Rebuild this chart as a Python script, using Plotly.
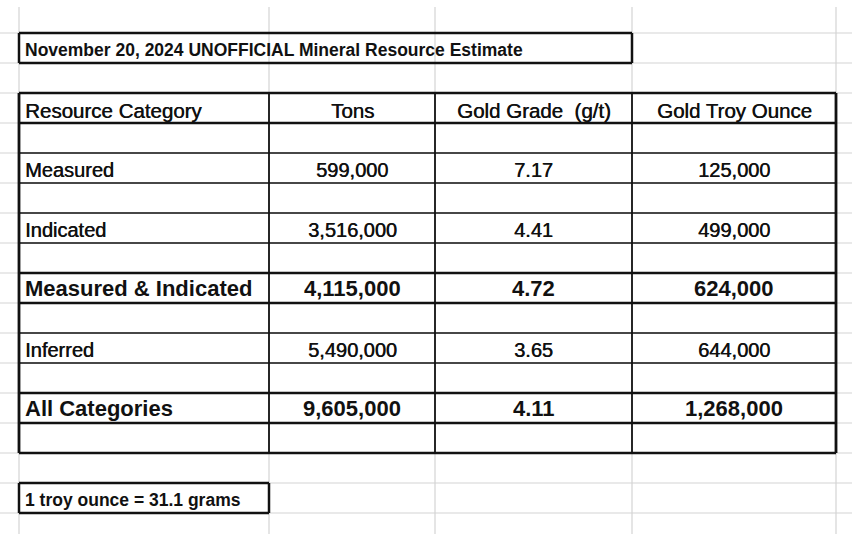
"""
Mineral resource estimate table, drawn as a spreadsheet snapshot with Plotly.
"""

import plotly.graph_objects as go

# ---- data ----
title_text = "November 20, 2024 UNOFFICIAL Mineral Resource Estimate"
footnote_text = "1 troy ounce = 31.1 grams"
headers = ["Resource Category", "Tons", "Gold Grade  (g/t)", "Gold Troy Ounce"]
categories = ["Measured", "Indicated", "Measured & Indicated", "Inferred", "All Categories"]
tons = [599000, 3516000, 4115000, 5490000, 9605000]
gold_grade = [7.17, 4.41, 4.72, 3.65, 4.11]
troy_ounces = [125000, 499000, 624000, 644000, 1268000]
is_total = [False, False, True, False, True]

# ---- sheet geometry (pixels) ----
W, H = 852, 534
COL_X = [19, 269, 435, 632, 836]      # column boundaries
ROW_H = 30
GRID_TOP = 7
FIRST_ROW = 33
TABLE_TOP = 93
TABLE_ROWS = 12                       # header + spacer/data rows
GRID = "#d4d4d4"
INK = "#111111"
FONT = "Liberation Sans, Arial, sans-serif"
PAD = 4

fig = go.Figure()
shapes = []
annotations = []


def line(x0, y0, x1, y1, color=INK, width=1):
    shapes.append(dict(type="line", x0=x0, y0=y0, x1=x1, y1=y1, xref="x", yref="y",
                       line=dict(color=color, width=width), layer="above"))


def cell_text(text, x, y, size, bold=False, anchor="center"):
    # regular text gets a hairline shadow so it looks as heavy as the ClearType screenshot
    font = dict(family=FONT, size=size, color=INK)
    if not bold:
        font["shadow"] = "0.45px 0 0 #111111"
    annotations.append(dict(
        x=x, y=y, xref="x", yref="y", text=f"<b>{text}</b>" if bold else text,
        showarrow=False, xanchor=anchor, yanchor="middle", font=font,
    ))


# spreadsheet gridlines
y = FIRST_ROW
while y < H:
    line(0, y, W, y, GRID, 1.2)
    y += ROW_H
for x in COL_X:
    line(x, GRID_TOP, x, H, GRID, 1.2)

# title box
line(COL_X[0], FIRST_ROW, COL_X[3], FIRST_ROW, width=2.5)
line(COL_X[0], FIRST_ROW + ROW_H, COL_X[3], FIRST_ROW + ROW_H, width=2.5)
line(COL_X[0], FIRST_ROW, COL_X[0], FIRST_ROW + ROW_H, width=2.5)
line(COL_X[3], FIRST_ROW, COL_X[3], FIRST_ROW + ROW_H, width=2.5)
cell_text(title_text, COL_X[0] + PAD, FIRST_ROW + ROW_H / 2 + 2, 17.5, bold=True, anchor="left")

# main table borders
table_bottom = TABLE_TOP + TABLE_ROWS * ROW_H
thick_rows = {0, 1, 6, 7, 10, 11, 12}
for r in range(TABLE_ROWS + 1):
    yy = TABLE_TOP + r * ROW_H
    line(COL_X[0], yy, COL_X[-1], yy, width=2.5 if r in thick_rows else 1.4)
for i, x in enumerate(COL_X):
    outer = i in (0, len(COL_X) - 1)
    line(x, TABLE_TOP, x, table_bottom, width=2.8 if outer else 1.8)

# header row
hy = TABLE_TOP + ROW_H / 2 + 2
cell_text(headers[0], COL_X[0] + PAD, hy, 20.5, anchor="left")
for c in range(1, 4):
    cell_text(headers[c], (COL_X[c] + COL_X[c + 1]) / 2, hy, 20.5)

# data rows (every other row, starting after one spacer)
for i, cat in enumerate(categories):
    bold = is_total[i]
    ry = TABLE_TOP + (2 + 2 * i) * ROW_H + ROW_H / 2 + (0.5 if bold else 2)
    size = 22 if bold else 20
    values = [f"{tons[i]:,}", f"{gold_grade[i]:.2f}", f"{troy_ounces[i]:,}"]
    cell_text(cat, COL_X[0] + PAD, ry, size, bold=bold, anchor="left")
    for c, v in enumerate(values, start=1):
        cell_text(v, (COL_X[c] + COL_X[c + 1]) / 2, ry, size, bold=bold)

# footnote box
fy0 = table_bottom + ROW_H
fy1 = fy0 + ROW_H
line(COL_X[0], fy0, COL_X[1], fy0, width=2.5)
line(COL_X[0], fy1, COL_X[1], fy1, width=2.5)
line(COL_X[0], fy0, COL_X[0], fy1, width=2.5)
line(COL_X[1], fy0, COL_X[1], fy1, width=2.5)
cell_text(footnote_text, COL_X[0] + PAD, (fy0 + fy1) / 2 + 2, 17.5, bold=True, anchor="left")

fig.update_layout(
    width=W, height=H,
    margin=dict(l=0, r=0, t=0, b=0),
    paper_bgcolor="white", plot_bgcolor="white",
    showlegend=False,
    shapes=shapes,
    annotations=annotations,
    xaxis=dict(range=[0, W], visible=False, fixedrange=True),
    yaxis=dict(range=[H, 0], visible=False, fixedrange=True),
)

# page has a default body margin; drop it so the sheet sits at the window's corner
fig.write_html("out.html", config=dict(displayModeBar=False),
               post_script="document.body.style.margin='0';")
